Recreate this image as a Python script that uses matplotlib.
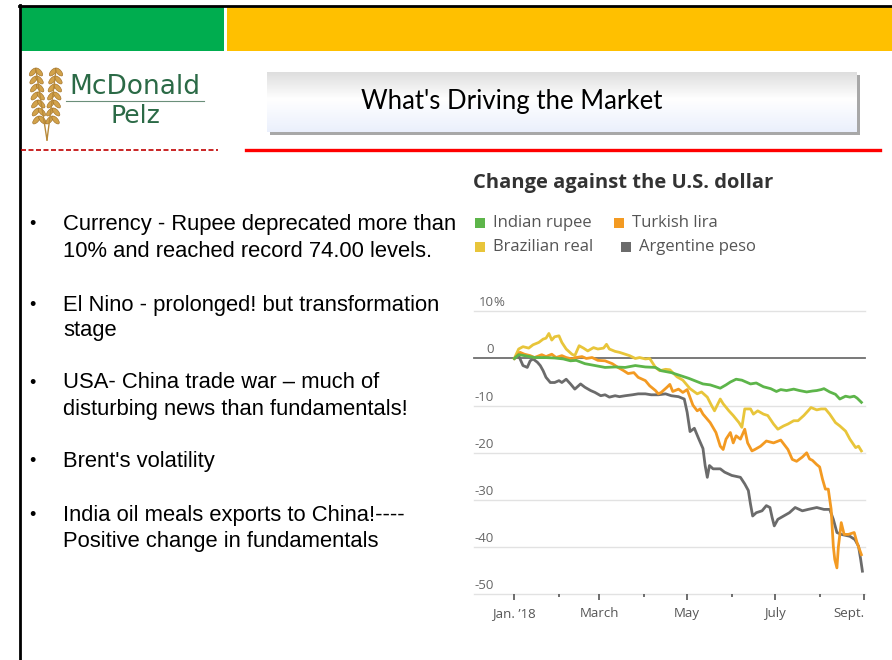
import numpy as np
import pandas as pd
import matplotlib
matplotlib.use("Agg")
import matplotlib.pyplot as plt
from matplotlib.patches import Rectangle, Ellipse
from matplotlib.lines import Line2D
import matplotlib.transforms as mtransforms

# days since Jan 1 2018 and % change against the dollar
rupee_days = [0, 3, 7, 14, 21, 28, 34, 39, 43, 49, 56, 63, 70, 77, 84, 91, 98, 102, 109, 116,
              121, 126, 131, 136, 140, 143, 147, 150, 154, 158, 164, 168, 173, 178, 182, 185, 189,
              194, 198, 203, 207, 210, 213, 215, 219, 223, 226, 230, 233, 236, 238, 241]
rupee_vals = [0, 0.8, 0.6, 0.2, 0.2, 0.1, -0.1, -0.5, -0.4, -1.1, -1.5, -1.9, -1.8, -1.9, -1.5, -1.8, -1.9, -2.6, -3.0, -3.7,
              -4.2, -4.8, -5.4, -5.6, -6.0, -6.3, -5.6, -5.0, -4.4, -4.6, -5.4, -5.2, -6.0, -6.4, -7.0, -6.6, -6.8,
              -6.5, -6.8, -7.1, -6.9, -6.8, -6.6, -6.4, -7.1, -7.6, -8.6, -8.0, -8.2, -8.0, -8.4, -9.3]

real_days = [0, 3, 6, 10, 13, 17, 20, 22, 24, 26, 28, 31, 33, 36, 40, 42, 45, 48, 51, 55,
             58, 62, 64, 66, 70, 73, 77, 80, 84, 87, 91, 94, 98, 101, 105, 108, 113, 117, 122, 127,
             130, 134, 137, 139, 143, 145, 149, 152, 156, 158, 160, 164, 166, 169, 173, 176, 180, 183, 187, 190,
             194, 197, 201, 204, 206, 210, 213, 216, 219, 223, 226, 230, 233, 237, 239, 241]
real_vals = [0, 2.0, 2.5, 2.2, 2.9, 3.4, 4.1, 4.3, 5.3, 3.9, 4.6, 4.8, 3.4, 2.0, 0.9, 0.6, 2.7, 2.2, 1.6, 2.3,
             2.0, 2.2, 3.0, 2.0, 1.5, 1.3, 0.9, 0.6, 0, 0.2, -0.1, 0, -1.9, -2.6, -2.3, -2.4, -3.9, -4.6, -6.4, -7.5,
             -7.1, -8.2, -10.0, -11.1, -8.6, -9.6, -11.1, -12.1, -13.6, -14.6, -10.7, -10.7, -11.8, -11.1, -11.8, -12.1, -13.9, -15.0, -14.3, -13.9,
             -13.2, -13.2, -12.1, -11.1, -10.4, -10.9, -10.7, -10.7, -11.8, -13.6, -14.3, -15.4, -17.1, -18.9, -18.6, -19.6]

lira_days = [0, 4, 7, 11, 14, 19, 22, 26, 29, 33, 36, 40, 43, 47, 50, 54, 58, 63, 68, 72,
             76, 79, 83, 86, 91, 94, 98, 100, 102, 106, 108, 110, 114, 117, 120, 124, 127, 129, 131, 136,
             140, 143, 145, 147, 150, 152, 154, 157, 160, 162, 165, 167, 171, 175, 180, 185, 188, 190, 193, 196,
             200, 203, 205, 207, 210, 212, 214, 216, 218, 220, 221.5, 222.5, 224, 225, 227, 229, 232, 236, 238, 241]
lira_vals = [0, 1.3, 0.9, 0.6, 0.2, 0.8, 0.4, 0.9, 0.2, 0.6, 0.2, -0.1, 0.2, 0.4, 0, 0.2, -0.4, -0.5, -1.1, -1.9,
             -2.6, -3.2, -3.0, -4.0, -4.7, -5.8, -6.8, -7.5, -7.2, -6.1, -5.5, -7.0, -6.5, -7.2, -6.6, -9.9, -11.1, -10.7, -11.8, -13.6,
             -15.7, -18.6, -19.3, -17.1, -15.7, -17.9, -16.4, -17.1, -15.0, -17.9, -19.6, -19.3, -18.6, -17.5, -17.9, -17.3, -18.5, -19.3, -21.4, -21.8,
             -20.9, -20.0, -21.3, -21.6, -22.5, -23.0, -25.6, -27.7, -27.7, -32.0, -39.8, -42.6, -44.4, -40.0, -34.8, -37.3, -37.3, -36.9, -39.1, -41.6]

peso_days = [0, 3, 5, 6, 9, 11, 13, 16, 18, 20, 22, 25, 28, 31, 33, 36, 39, 42, 46, 49,
             53, 56, 60, 63, 66, 70, 73, 77, 82, 86, 91, 95, 100, 105, 109, 114, 118, 120, 122, 125,
             128, 131, 132.5, 134, 135.5, 138, 143, 146, 151, 157, 160, 162.5, 164, 165.5, 168, 172, 175, 177.5, 179, 180.5,
             183, 187, 191, 195, 200, 204, 210, 215, 219, 221.5, 224, 227, 233, 236.5, 239, 240.5, 241.7]
peso_vals = [0, 0.6, -0.8, -1.5, -1.9, -0.5, -0.1, -0.8, -1.5, -2.6, -4.0, -5.1, -5.1, -4.7, -5.1, -4.4, -5.4, -6.5, -5.4, -6.1,
             -6.8, -7.2, -7.9, -7.7, -8.2, -7.9, -8.1, -7.9, -7.7, -7.5, -7.5, -7.7, -7.7, -7.5, -7.9, -8.1, -8.6, -11.4, -15.5, -14.8,
             -17.0, -19.1, -22.7, -25.2, -22.7, -23.4, -23.4, -24.1, -24.8, -25.2, -26.6, -28.0, -30.9, -33.4, -32.7, -32.3, -31.2, -31.6, -33.7, -35.5,
             -34.1, -33.4, -32.7, -31.6, -32.3, -32.0, -31.6, -32.0, -32.0, -34.1, -36.9, -37.3, -37.7, -38.4, -39.8, -42.6, -45.1]

series_names = ["Indian rupee", "Turkish lira", "Brazilian real", "Argentine peso"]
series_colors = ["#5db54a", "#f39a22", "#e8c53a", "#6b6b6b"]

ytick_vals = [10, 0, -10, -20, -30, -40, -50]
major_months = ["2018-01-01", "2018-03-01", "2018-05-01", "2018-07-01", "2018-09-01"]
major_labels = ["Jan. \u201918", "March", "May", "July", "Sept."]
minor_months = ["2018-02-01", "2018-04-01", "2018-06-01", "2018-08-01"]

bullets = [["Currency - Rupee deprecated more than", "10% and reached record 74.00 levels."],
           ["El Nino - prolonged! but transformation", "stage"],
           ["USA- China trade war \u2013 much of", "disturbing news than fundamentals!"],
           ["Brent's volatility"],
           ["India oil meals exports to China!----", "Positive change in fundamentals"]]

W, H = 892, 660


def fx(px):
    return px / W


def fy(py):
    return 1 - py / H


def to_dates(days):
    return pd.Timestamp("2018-01-01") + pd.to_timedelta(np.array(days), unit="D")


fig = plt.figure(figsize=(W / 100, H / 100), dpi=100)
fig.patch.set_facecolor("white")

# header bars and frame
fig.patches.append(Rectangle((fx(21), fy(51)), 203 / W, 44 / H, transform=fig.transFigure,
                             facecolor="#00ad4f", edgecolor="none"))
fig.patches.append(Rectangle((fx(227), fy(51)), 665 / W, 44 / H, transform=fig.transFigure,
                             facecolor="#ffc000", edgecolor="none"))
fig.lines.append(Line2D([fx(19), 1], [fy(6), fy(6)], transform=fig.transFigure, color="black", lw=2))
fig.lines.append(Line2D([fx(20), fx(20)], [fy(5), 0], transform=fig.transFigure, color="black", lw=2))

# logo: two wheat ears
for cx, lean in [(40, -1), (52, 1)]:
    fig.lines.append(Line2D([fx(cx + lean * 4), fx(47)], [fy(70), fy(140)], transform=fig.transFigure,
                            color="#b88a3a", lw=1))
    for k in range(7):
        yy = 72 + k * 8
        xc = cx + lean * 4 * (1 - k / 7)
        for side in (-1, 1):
            e = Ellipse((fx(xc + side * 3), fy(yy)), 5 / W, 9 / H, angle=side * 30,
                        transform=fig.transFigure, facecolor="#d2a24a", edgecolor="#9a6a22", lw=0.4)
            fig.patches.append(e)
fig.text(fx(135), fy(87), "McDonald", ha="center", va="center", fontsize=19,
         color="#2b6a46", family="DejaVu Sans")
fig.lines.append(Line2D([fx(66), fx(204)], [fy(101), fy(101)], transform=fig.transFigure,
                        color="#6b8f7a", lw=0.8))
fig.text(fx(135), fy(116), "Pelz", ha="center", va="center", fontsize=18,
         color="#2b6a46", family="DejaVu Sans")

# separator lines
fig.lines.append(Line2D([fx(21), fx(218)], [fy(150), fy(150)], transform=fig.transFigure,
                        color="#c00000", lw=1.2, dashes=(3, 1.5)))
fig.lines.append(Line2D([fx(246), fx(880)], [fy(149.5), fy(149.5)], transform=fig.transFigure,
                        color="#ff0000", lw=2.4))

# title box with gradient and shadow
fig.patches.append(Rectangle((fx(270), fy(135)), 590 / W, 60 / H, transform=fig.transFigure,
                             facecolor="#a8a8a8", edgecolor="none", zorder=-1))
tax = fig.add_axes([fx(267), fy(132), 590 / W, 60 / H])
g = np.linspace(0, 1, 100)
top = np.array([0.87, 0.87, 0.87])
mid = np.array([1.0, 1.0, 1.0])
bot = np.array([0.92, 0.94, 0.99])
grad = np.zeros((100, 1, 3))
for i, t in enumerate(g):
    if t < 0.45:
        grad[i, 0] = top + (mid - top) * (t / 0.45)
    else:
        grad[i, 0] = mid + (bot - mid) * ((t - 0.45) / 0.55)
tax.imshow(grad, aspect="auto", extent=[0, 1, 0, 1])
tax.set_xlim(0, 1)
tax.set_ylim(0, 1)
tax.axis("off")
fig.text(fx(512), fy(101), "What's Driving the Market", ha="center", va="center",
         fontsize=18.5, color="black", family="Lato")

# bullet points
line_y = [[225, 251.5], [305, 330.5], [383, 409], [462], [515, 541.5]]
for lines, ys in zip(bullets, line_y):
    fig.text(fx(32), fy(ys[0]), "\u2022", ha="center", va="center", fontsize=13,
             family="Liberation Sans")
    for txt, yy in zip(lines, ys):
        fig.text(fx(63), fy(yy), txt, ha="left", va="center", fontsize=15.8,
                 family="Liberation Sans", color="black")

# chart title and legend
fig.text(fx(473), fy(183), "Change against the U.S. dollar", ha="left", va="center",
         fontsize=14.5, fontweight="bold", color="#333333", family="Open Sans")
leg_pos = [(475, 223), (614, 223), (475, 247), (621, 247)]
for name, col, (lx, ly) in zip(series_names, series_colors, leg_pos):
    fig.patches.append(Rectangle((fx(lx), fy(ly + 5)), 10 / W, 10 / H, transform=fig.transFigure,
                                 facecolor=col, edgecolor="none"))
    fig.text(fx(lx + 18), fy(ly), name, ha="left", va="center", fontsize=12,
             color="#555555", family="Open Sans")

# chart
ax = fig.add_axes([fx(474), fy(594.3), (865 - 474) / W, (594.3 - 311.3) / H])
for v in ytick_vals:
    if v == 0:
        ax.axhline(v, color="#6e6e6e", lw=1.3, zorder=1, clip_on=False)
    else:
        ax.axhline(v, color="#e2e2e2", lw=1, zorder=0, clip_on=False)

lab_tr = mtransforms.blended_transform_factory(ax.transAxes, ax.transData)
xr = (494 - 474) / (865 - 474)
for v in ytick_vals:
    lab = "10" if v == 10 else str(v)
    ax.annotate(lab, (xr, v), xycoords=lab_tr, xytext=(0, 1.5), textcoords="offset points",
                ha="right", va="bottom", fontsize=9.5, color="#666666", family="Open Sans")
ax.annotate("%", (xr, 10), xycoords=lab_tr, xytext=(-0.5, 1.5), textcoords="offset points",
            ha="left", va="bottom", fontsize=9.5, color="#666666", family="Open Sans")

order = [(peso_days, peso_vals, 3), (real_days, real_vals, 2),
         (lira_days, lira_vals, 1), (rupee_days, rupee_vals, 0)]
for d, v, ci in order:
    ax.plot(to_dates(d), v, color=series_colors[ci], lw=2.0, zorder=3,
            solid_joinstyle="round")

ax.set_xlim(pd.Timestamp("2017-12-04"), pd.Timestamp("2018-09-01 12:00"))
ax.set_ylim(-50, 10)
ax.set_yticks([])
ax.set_xticks(pd.to_datetime(major_months))
ax.set_xticklabels(major_labels)
ax.set_xticks(pd.to_datetime(minor_months), minor=True)
ax.tick_params(axis="x", which="major", direction="out", length=4, width=1.2, color="#555555",
               labelsize=9.5, labelcolor="#555555", pad=5)
ax.tick_params(axis="x", which="minor", direction="out", length=2.5, width=1.2, color="#555555")
for lab in ax.get_xticklabels():
    lab.set_family("Open Sans")
ax.get_xticklabels()[-1].set_horizontalalignment("right")
for s in ax.spines.values():
    s.set_visible(False)
ax.patch.set_alpha(0)

fig.savefig("out.png", dpi=100)
